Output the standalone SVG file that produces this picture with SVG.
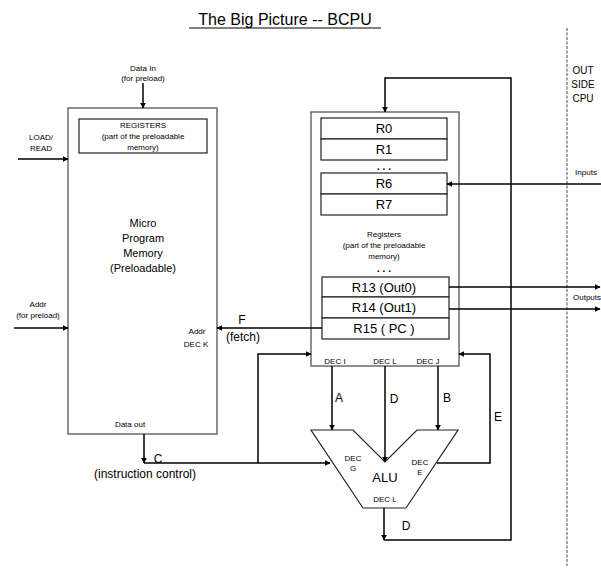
<svg xmlns="http://www.w3.org/2000/svg" width="601" height="569" viewBox="0 0 601 569">
<defs>
<marker id="ah" viewBox="0 0 10 10" refX="9" refY="5" markerWidth="6" markerHeight="6" orient="auto" markerUnits="userSpaceOnUse"><path d="M0,0 L10,5 L0,10 z" fill="#000"/></marker>
</defs>
<style>
text{font-family:"Liberation Sans",Arial,sans-serif;fill:#000;text-anchor:middle}
.s{font-size:8px}
.m{font-size:12px}
.r{font-size:13px}
.d{font-size:10px;font-weight:bold}
.box{fill:#fff;stroke:#555;stroke-width:1.3}
.reg{fill:#fff;stroke:#222;stroke-width:1.2}
.w{fill:none;stroke:#000;stroke-width:1.5}
.a{fill:none;stroke:#000;stroke-width:1.5;marker-end:url(#ah)}
</style>
<rect width="601" height="569" fill="#fff"/>
<text x="285" y="25" style="font-size:16px">The Big Picture -- BCPU</text>
<line x1="189" y1="28" x2="381" y2="28" stroke="#000" stroke-width="1"/>
<line x1="567" y1="28" x2="567" y2="566" stroke="#666" stroke-width="1.2" stroke-dasharray="3,1.5"/>
<g id="outside"><text x="583" y="74" style="font-size:10px">OUT</text><text x="583" y="88" style="font-size:10px">SIDE</text><text x="583" y="102" style="font-size:10px">CPU</text></g>

<g id="micro">
<rect class="box" x="68" y="108" width="149" height="326"/>
<rect class="reg" x="79" y="119" width="128" height="34"/>
<text class="s" x="143" y="128">REGISTERS</text>
<text class="s" x="143" y="139">(part of the preloadable</text>
<text class="s" x="143" y="150">memory)</text>
<text x="143" y="227" style="font-size:11px">Micro</text>
<text x="143" y="242" style="font-size:11px">Program</text>
<text x="143" y="257" style="font-size:11px">Memory</text>
<text x="143" y="272" style="font-size:11px">(Preloadable)</text>
<text class="s" x="197" y="334">Addr</text>
<text class="s" x="196" y="347">DEC K</text>
<text class="s" x="130" y="427">Data out</text>
</g>

<g id="regfile">
<rect class="box" x="311" y="112" width="148" height="254"/>
<rect class="reg" x="321" y="118" width="126" height="21"/><text class="r" x="384" y="133">R0</text>
<rect class="reg" x="321" y="139" width="126" height="21"/><text class="r" x="384" y="154">R1</text>
<text class="d" x="384" y="170">. . .</text>
<rect class="reg" x="321" y="173" width="126" height="21"/><text class="r" x="384" y="188">R6</text>
<rect class="reg" x="321" y="194" width="126" height="21"/><text class="r" x="384" y="209">R7</text>
<text class="s" x="384" y="237">Registers</text>
<text class="s" x="384" y="248">(part of the preloadable</text>
<text class="s" x="384" y="259">memory)</text>
<text class="d" x="384" y="272">. . .</text>
<rect class="reg" x="322" y="277" width="127" height="20"/><text class="r" x="384" y="292">R13 (Out0)</text>
<rect class="reg" x="322" y="297" width="127" height="21"/><text class="r" x="384" y="312">R14 (Out1)</text>
<rect class="reg" x="322" y="318" width="127" height="21"/><text class="r" x="384" y="333">R15 ( PC )</text>
<text class="s" x="335" y="364">DEC I</text>
<text class="s" x="385" y="364">DEC L</text>
<text class="s" x="428" y="364">DEC J</text>
</g>

<g id="alu">
<path d="M311,430 L353,430 L385,462 L417,430 L458,430 L406,508 L363,508 Z" fill="#fff" stroke="#222" stroke-width="1.2"/>
<text class="s" x="353" y="461">DEC</text>
<text class="s" x="353" y="471">G</text>
<text class="s" x="420" y="465">DEC</text>
<text class="s" x="420" y="475">E</text>
<text class="r" x="385" y="482">ALU</text>
<text class="s" x="385" y="502">DEC L</text>
</g>

<g id="connectors">
<line class="a" x1="143" y1="83" x2="143" y2="108"/>
<line class="a" x1="18" y1="159" x2="68" y2="159"/>
<line class="a" x1="14" y1="328" x2="68" y2="328"/>
<polyline class="a" points="322,328 217,328"/>
<line class="a" x1="144" y1="434" x2="144" y2="463"/>
<polyline class="a" points="144,463 330,463"/>
<polyline class="a" points="258,463 258,354 311,354"/>
<line class="a" x1="332" y1="366" x2="332" y2="430"/>
<line class="a" x1="385" y1="366" x2="385" y2="462"/>
<line class="a" x1="438" y1="366" x2="438" y2="430"/>
<polyline class="a" points="437,463 490,463 490,354 459,354"/>
<line class="a" x1="384" y1="508" x2="384" y2="540"/>
<polyline class="a" points="384,540 511,540 511,78 385,78 385,112"/>
<line class="a" x1="601" y1="184" x2="447" y2="184"/>
<line class="a" x1="449" y1="287" x2="600" y2="287"/>
<line class="a" x1="449" y1="309" x2="600" y2="309"/>
</g>
<g id="labels">
<text class="s" x="143" y="71">Data In</text>
<text class="s" x="143" y="81">(for preload)</text>
<text class="s" x="41" y="140">LOAD/</text>
<text class="s" x="41" y="151">READ</text>
<text class="s" x="38" y="307">Addr</text>
<text class="s" x="38" y="318">(for preload)</text>
<text class="m" x="242" y="324">F</text>
<text class="m" x="243" y="341">(fetch)</text>
<text class="m" x="158" y="463">C</text>
<text class="m" x="145" y="478">(instruction control)</text>
<text class="m" x="339" y="402">A</text>
<text class="m" x="394" y="403">D</text>
<text class="m" x="447" y="402">B</text>
<text class="m" x="498" y="421">E</text>
<text class="m" x="406" y="530">D</text>
<text class="s" x="586" y="175">Inputs</text>
<text class="s" x="587" y="300">Outputs</text>
</g>
</svg>
